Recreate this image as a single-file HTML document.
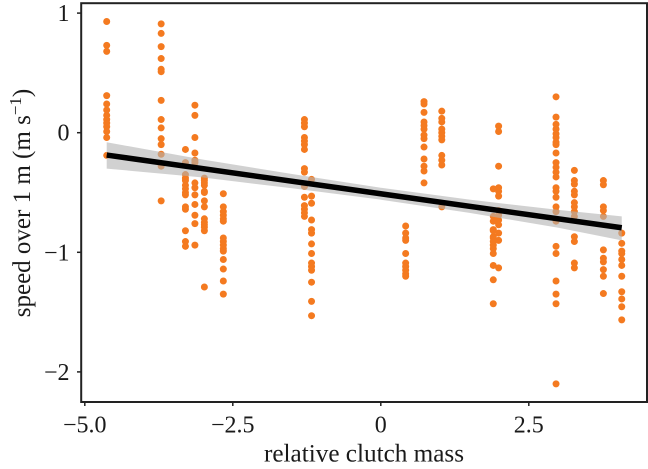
<!DOCTYPE html>
<html lang="en">
<head>
<meta charset="utf-8">
<title>Speed over 1 m vs relative clutch mass</title>
<style>
html,body{margin:0;padding:0;background:#fff;}
svg{display:block;}
text{font-family:"Liberation Serif",serif;fill:#1a1a1a;}
</style>
</head>
<body>
<svg id="chart" xmlns="http://www.w3.org/2000/svg" width="648" height="469" viewBox="0 0 648 469">
  <g id="points"></g>
  <path id="ribbon" fill="#b3b3b3" fill-opacity="0.6"></path>
  <path id="fit" fill="none" stroke="#000" stroke-width="5.5"></path>
  <rect x="81.2" y="3.2" width="565.8" height="398.8" fill="none" stroke="#222" stroke-width="2"></rect>
  <g id="x-ticks"></g>
  <g id="y-ticks"></g>
  <text x="364" y="461.5" font-size="25.2" text-anchor="middle">relative clutch mass</text>
  <text transform="translate(30,203) rotate(-90)" font-size="25" text-anchor="middle">speed over 1 m (m s<tspan font-size="17" dy="-9">−1</tspan><tspan dy="9">)</tspan></text>
</svg>
<script>
const columnX = [-4.63,-3.71,-3.30,-3.14,-2.98,-2.66,-1.29,-1.17,0.42,0.73,1.03,1.90,1.99,2.96,3.27,3.76,4.07];
const columnSpeeds = [
  [0.93,0.73,0.68,0.31,0.24,0.19,0.145,0.11,0.08,0.05,0.01,-0.04,-0.19],
  [0.91,0.83,0.72,0.62,0.53,0.51,0.27,0.11,0.04,-0.05,-0.10,-0.18,-0.28,-0.57],
  [-0.14,-0.25,-0.35,-0.38,-0.40,-0.44,-0.47,-0.50,-0.52,-0.62,-0.64,-0.82,-0.91,-0.95],
  [0.23,0.145,-0.04,-0.17,-0.23,-0.25,-0.42,-0.46,-0.52,-0.60,-0.69,-0.76,-0.94],
  [-0.38,-0.40,-0.42,-0.44,-0.49,-0.50,-0.57,-0.62,-0.72,-0.75,-0.77,-0.79,-0.82,-1.29],
  [-0.51,-0.62,-0.66,-0.69,-0.72,-0.74,-0.88,-0.91,-0.94,-0.97,-0.99,-1.06,-1.14,-1.24,-1.35],
  [0.11,0.08,0.05,-0.04,-0.07,-0.10,-0.14,-0.30,-0.33,-0.45,-0.54,-0.61,-0.64,-0.67,-0.70],
  [-0.39,-0.53,-0.59,-0.73,-0.81,-0.84,-0.93,-1.01,-1.09,-1.12,-1.15,-1.25,-1.41,-1.53],
  [-0.78,-0.84,-0.88,-0.90,-1.01,-1.09,-1.12,-1.15,-1.18,-1.20],
  [0.26,0.24,0.17,0.09,0.06,0.03,-0.02,-0.05,-0.12,-0.22,-0.28,-0.32,-0.42],
  [0.18,0.12,0.09,0.03,0,-0.03,-0.06,-0.19,-0.23,-0.27,-0.62],
  [-0.47,-0.70,-0.74,-0.81,-0.87,-0.82,-0.88,-0.91,-0.94,-0.97,-1.01,-1.11,-1.23,-1.43],
  [0.055,0.01,-0.28,-0.46,-0.49,-0.53,-0.65,-0.69,-0.73,-0.77,-0.84,-0.90,-1.13],
  [0.30,0.13,0.07,0.03,-0.01,-0.04,-0.08,-0.10,-0.17,-0.25,-0.29,-0.33,-0.37,-0.46,-0.49,-0.54,-0.62,-0.66,-0.74,-0.95,-1.01,-1.24,-1.35,-1.43,-2.10],
  [-0.315,-0.40,-0.43,-0.49,-0.52,-0.585,-0.62,-0.66,-0.70,-0.87,-0.91,-1.09,-1.13],
  [-0.40,-0.435,-0.62,-0.65,-0.70,-0.98,-1.05,-1.08,-1.145,-1.20,-1.345],
  [-0.84,-0.925,-0.99,-1.01,-1.06,-1.11,-1.20,-1.33,-1.39,-1.455,-1.565]
];
const fitX = [-4.63,4.07];
const fitY = [-0.187,-0.795];
const ribbonX = [-4.63,-3,-1.5,0,1.5,3,4.07];
const ribbonUpper = [-0.08,-0.225,-0.345,-0.46,-0.56,-0.645,-0.70];
const ribbonLower = [-0.30,-0.375,-0.465,-0.56,-0.67,-0.795,-0.90];
const xTickValues = [-5,-2.5,0,2.5];
const xTickLabels = ["−5.0","−2.5","0","2.5"];
const yTickValues = [1,0,-1,-2];
const yTickLabels = ["1","0","−1","−2"];

const NS = "http://www.w3.org/2000/svg";
function sx(v){ return 380.8 + 59.2 * v; }
function sy(v){ return 132.7 - 119.6 * v; }

const pointsGroup = document.getElementById("points");
columnX.forEach(function(cx, i){
  columnSpeeds[i].forEach(function(val){
    const c = document.createElementNS(NS, "circle");
    c.setAttribute("cx", sx(cx).toFixed(2));
    c.setAttribute("cy", sy(val).toFixed(2));
    c.setAttribute("r", "3.5");
    c.setAttribute("fill", "#f47a20");
    
    
    pointsGroup.appendChild(c);
  });
});

let ribbonPath = "";
ribbonX.forEach(function(v, i){
  ribbonPath += (i ? "L" : "M") + sx(v).toFixed(2) + " " + sy(ribbonUpper[i]).toFixed(2);
});
for (let i = ribbonX.length - 1; i >= 0; i--) {
  ribbonPath += "L" + sx(ribbonX[i]).toFixed(2) + " " + sy(ribbonLower[i]).toFixed(2);
}
document.getElementById("ribbon").setAttribute("d", ribbonPath + "Z");

let fitPath = "";
fitX.forEach(function(v, i){
  fitPath += (i ? "L" : "M") + sx(v).toFixed(2) + " " + sy(fitY[i]).toFixed(2);
});
document.getElementById("fit").setAttribute("d", fitPath);

const xAxis = document.getElementById("x-ticks");
xTickValues.forEach(function(v, i){
  const t = document.createElementNS(NS, "line");
  t.setAttribute("x1", sx(v));
  t.setAttribute("x2", sx(v));
  t.setAttribute("y1", 402);
  t.setAttribute("y2", 406);
  t.setAttribute("stroke", "#222");
  t.setAttribute("stroke-width", "1.5");
  
  
  xAxis.appendChild(t);
  const l = document.createElementNS(NS, "text");
  l.setAttribute("x", sx(v));
  l.setAttribute("y", 432.5);
  l.setAttribute("font-size", "24");
  l.setAttribute("text-anchor", "middle");
  
  
  l.textContent = xTickLabels[i];
  xAxis.appendChild(l);
});

const yAxis = document.getElementById("y-ticks");
yTickValues.forEach(function(v, i){
  const t = document.createElementNS(NS, "line");
  t.setAttribute("x1", 77);
  t.setAttribute("x2", 81);
  t.setAttribute("y1", sy(v));
  t.setAttribute("y2", sy(v));
  t.setAttribute("stroke", "#222");
  t.setAttribute("stroke-width", "1.5");
  
  
  yAxis.appendChild(t);
  const l = document.createElementNS(NS, "text");
  l.setAttribute("x", 69.5);
  l.setAttribute("y", sy(v) + 8);
  l.setAttribute("font-size", "24");
  l.setAttribute("text-anchor", "end");
  
  
  l.textContent = yTickLabels[i];
  yAxis.appendChild(l);
});
</script>
</body>
</html>
